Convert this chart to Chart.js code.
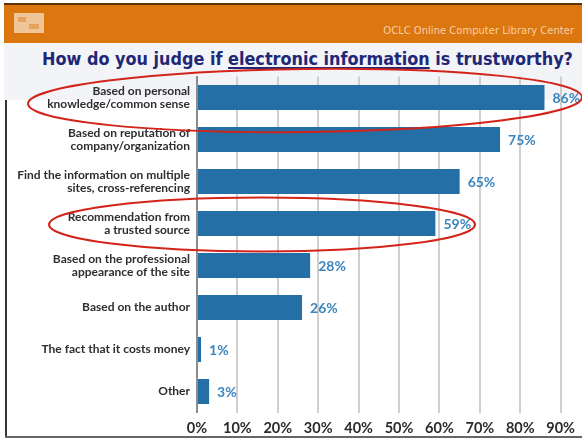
<!DOCTYPE html>
<html>
<head>
<meta charset="utf-8">
<script src="https://cdn.jsdelivr.net/npm/chart.js@4.4.1/dist/chart.umd.min.js"></script>
<style>
  html, body { margin: 0; padding: 0; background: #fff; }
  #page { position: relative; width: 582px; height: 439px; overflow: hidden; }
  .topline { position: absolute; left: 4px; top: 3px; width: 578px; height: 2px; background: #5e3306; }
  .header { position: absolute; left: 4px; top: 5px; width: 578px; height: 38px; background: #dc760e; }
  .logo { position: absolute; left: 10px; top: 8px; width: 30px; height: 20px; background: #f3cfa8; opacity: 0.9; }
  .logo span { position: absolute; background: #e9a766; }
  .org { position: absolute; right: 8px; top: 20px; font: 10px "DejaVu Sans", sans-serif; color: #f7cfa6; white-space: nowrap; }
  .band { position: absolute; left: 4px; top: 43px; width: 578px; height: 57px; background: #f3f4f7; }
  .title { position: absolute; left: 42px; top: 49px; font: bold 17px "DejaVu Sans", sans-serif; color: #1e2877; white-space: nowrap; transform-origin: left top; }
  .title u { text-decoration-thickness: 1.5px; text-underline-offset: 2px; }
  .frame-left { position: absolute; left: 5px; top: 100px; width: 2px; height: 338px; background: #333; }
  .frame-bottom { position: absolute; left: 5px; top: 436px; width: 577px; height: 2px; background: #666; }
  canvas { position: absolute; left: 0; top: 0; }
</style>
</head>
<body>
<div id="page">
  <div class="topline"></div>
  <div class="header">
    <div class="logo"><span style="left:4px;top:4px;width:8px;height:5px"></span><span style="left:15px;top:11px;width:10px;height:5px"></span></div>
    <div class="org">OCLC Online Computer Library Center</div>
  </div>
  <div class="band"></div>
  <div class="title" id="title">How do you judge if <u>electronic information</u> is trustworthy?</div>
  <div class="frame-left"></div>
  <div class="frame-bottom"></div>
  <canvas id="chart" width="582" height="439"></canvas>
</div>
<script>
// survey answers, one bar per answer
const answers = [
  ['Based on personal', 'knowledge/common sense'],
  ['Based on reputation of', 'company/organization'],
  ['Find the information on multiple', 'sites, cross-referencing'],
  ['Recommendation from', 'a trusted source'],
  ['Based on the professional', 'appearance of the site'],
  'Based on the author',
  'The fact that it costs money',
  'Other'
];
const percents = [86, 75, 65, 59, 28, 26, 1, 3];
const axisTicks = [0, 10, 20, 30, 40, 50, 60, 70, 80, 90];

// rows circled in red
const circled = [
  { row: 0, cx: 305, dy: 3, rx: 277, ry: 31.5, rot: -0.012 },
  { row: 3, cx: 262, dy: 1, rx: 213, ry: 27, rot: 0 }
];

// stretch the title over its line
const title = document.getElementById('title');
title.style.transform = 'scaleX(' + (531 / title.offsetWidth) + ')';

const valueLabels = {
  id: 'valueLabels',
  afterDatasetsDraw(chart) {
    const ctx = chart.ctx;
    const meta = chart.getDatasetMeta(0);
    ctx.save();
    ctx.font = 'bold 14px Lato, sans-serif';
    ctx.fillStyle = '#3b85bf';
    ctx.textAlign = 'left';
    ctx.textBaseline = 'middle';
    meta.data.forEach((bar, i) => {
      ctx.fillText(percents[i] + '%', bar.x + 8, bar.y + 1);
    });
    ctx.restore();
  }
};

const redRings = {
  id: 'redRings',
  afterDraw(chart) {
    const ctx = chart.ctx;
    const y = chart.scales.y;
    ctx.save();
    ctx.strokeStyle = '#d3241a';
    ctx.lineWidth = 2;
    circled.forEach(c => {
      ctx.beginPath();
      ctx.ellipse(c.cx, y.getPixelForValue(c.row) + c.dy, c.rx, c.ry, c.rot, 0, Math.PI * 2);
      ctx.stroke();
    });
    ctx.restore();
  }
};

new Chart(document.getElementById('chart'), {
  type: 'bar',
  data: {
    labels: answers,
    datasets: [{
      data: percents,
      backgroundColor: '#236fa6',
      borderWidth: 0,
      barPercentage: 0.6,
      categoryPercentage: 1
    }]
  },
  plugins: [valueLabels, redRings],
  options: {
    indexAxis: 'y',
    responsive: false,
    animation: false,
    layout: { padding: { top: 76.5, right: 20, bottom: 4, left: 0 } },
    plugins: { legend: { display: false }, tooltip: { enabled: false } },
    scales: {
      x: {
        min: 0,
        max: 90,
        afterBuildTicks: axis => { axis.ticks = axisTicks.map(v => ({ value: v })); },
        afterFit: axis => { axis.height = 439 - 412.5 - 4; },
        border: { display: false },
        grid: {
          drawTicks: false,
          lineWidth: 2,
          color: ctx => ctx.tick && ctx.tick.value === 0 ? 'rgba(0,0,0,0)' : '#cfcfcf'
        },
        ticks: {
          padding: 7,
          color: '#2a2a2a',
          font: { family: 'Lato', weight: 'bold', size: 14.5 },
          callback: v => v + '%'
        }
      },
      y: {
        afterFit: axis => { axis.width = 197; },
        border: { display: true, color: '#8c8c8c', width: 2 },
        grid: { display: false, drawTicks: false },
        ticks: {
          padding: 7,
          color: '#2e2e2e',
          font: { family: 'Lato', weight: 'bold', size: 12, lineHeight: 1.1 }
        }
      }
    }
  }
});
</script>
</body>
</html>
